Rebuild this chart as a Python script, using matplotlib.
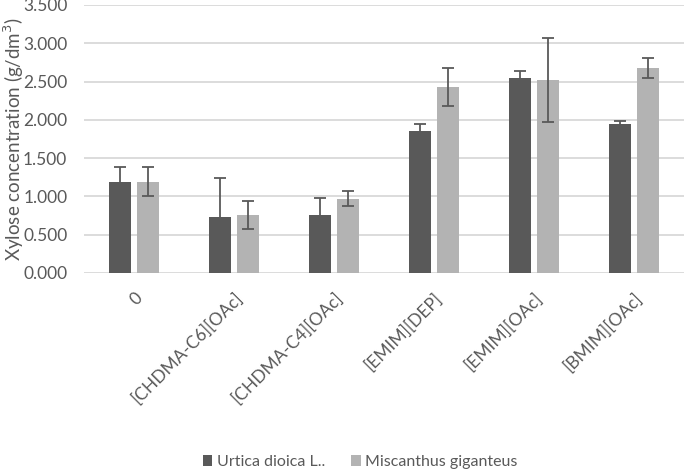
import numpy as np
import matplotlib.pyplot as plt

categories = ['0', '[CHDMA-C6][OAc]', '[CHDMA-C4][OAc]', '[EMIM][DEP]', '[EMIM][OAc]', '[BMIM][OAc]']
urtica = [1.19, 0.73, 0.76, 1.85, 2.55, 1.95]
urtica_err = [0.19, 0.51, 0.22, 0.10, 0.09, 0.04]
miscanthus = [1.19, 0.76, 0.97, 2.43, 2.52, 2.68]
miscanthus_err = [0.19, 0.18, 0.10, 0.25, 0.55, 0.13]

plt.rcParams['font.family'] = ['Lato', 'DejaVu Sans']
text_color = '#595959'

fig = plt.figure(figsize=(6.85, 4.76), dpi=100)
ax = fig.add_axes([0.1226, 0.4265, 0.876, 0.563])

x = np.arange(len(categories))
w = 0.22
gap = 0.06
ax.bar(x - (w + gap) / 2, urtica, w, color='#595959', label='Urtica dioica L..', zorder=3,
       yerr=urtica_err, error_kw=dict(ecolor='#595959', elinewidth=1.3, capsize=4, capthick=1.3))
ax.bar(x + (w + gap) / 2, miscanthus, w, color='#b3b3b3', label='Miscanthus giganteus', zorder=3,
       yerr=miscanthus_err, error_kw=dict(ecolor='#595959', elinewidth=1.3, capsize=4, capthick=1.3))

ax.set_xlim(-0.5, len(categories) - 0.5)
ax.set_ylim(0, 3.5)
ax.set_yticks(np.arange(0, 3.51, 0.5))
ax.set_yticklabels([f'{v:.3f}' for v in np.arange(0, 3.51, 0.5)])
ax.yaxis.grid(True, color='#d9d9d9', linewidth=1.3, zorder=0)
ax.set_axisbelow(True)
for s in ax.spines.values():
    s.set_visible(False)
ax.tick_params(axis='both', length=0, labelsize=12.5, labelcolor=text_color)
ax.tick_params(axis='y', pad=12)
ax.set_xticks(x)
ax.set_xticklabels(categories, rotation=45, ha='right', rotation_mode='anchor')
ax.tick_params(axis='x', pad=12)
fig.text(0.02, 0.708, 'Xylose concentration (g/dm$^3$)', rotation=90, ha='center', va='center',
         fontsize=13.5, color=text_color)

fig.legend(loc='center', bbox_to_anchor=(0.526, 0.029), ncol=2, frameon=False,
           handlelength=0.6, handleheight=0.6, handletextpad=0.3, columnspacing=1.6,
           fontsize=11.5, labelcolor=text_color)

fig.savefig('out.png', dpi=100)
